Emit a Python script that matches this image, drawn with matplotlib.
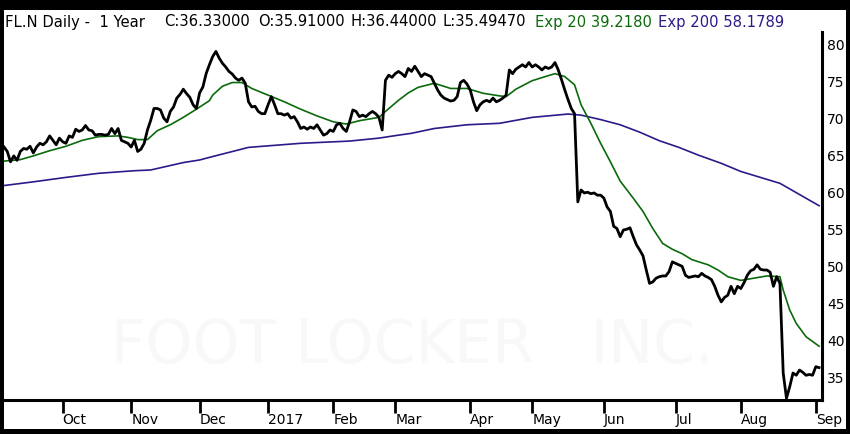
import numpy as np
import matplotlib
matplotlib.use("Agg")
import matplotlib.pyplot as plt
from matplotlib.patches import Rectangle
from matplotlib.transforms import blended_transform_factory

# ---- data (trading-day index from chart start) ----
close = [
    66.1, 65.5, 64.1, 64.9, 64.3, 65.5, 65.9, 65.8, 66.2, 65.3,
    66.1, 66.6, 66.4, 66.8, 67.6, 67.0, 66.4, 67.3, 66.8, 66.6,
    67.6, 67.4, 68.5, 68.2, 68.4, 69.0, 68.4, 68.3, 67.7, 67.8,
    67.8, 67.7, 67.8, 68.6, 67.9, 68.6, 67.0, 66.8, 66.6, 66.1,
    67.0, 65.5, 65.8, 66.6, 68.4, 69.7, 71.3, 71.3, 71.1, 70.0,
    69.5, 70.9, 71.5, 72.7, 73.2, 73.9, 73.3, 72.8, 71.8, 71.3,
    73.4, 74.2, 76.0, 77.2, 78.3, 79.0, 78.1, 77.4, 76.9, 76.3,
    75.95, 75.4, 75.1, 75.4, 74.7, 72.2, 71.5, 71.6, 70.9, 70.6,
    70.6, 71.8, 72.9, 71.8, 70.6, 70.6, 70.4, 70.6, 70.0, 70.2,
    69.5, 68.6, 68.8, 68.5, 68.8, 68.6, 69.1, 68.4, 67.7, 67.9,
    68.4, 68.2, 69.1, 69.3, 68.6, 68.2, 69.5, 71.1, 70.9, 70.2,
    70.4, 70.2, 70.6, 70.9, 70.6, 70.1, 68.4, 75.1, 75.8, 75.5,
    76.0, 76.3, 76.0, 75.6, 76.7, 76.3, 77.0, 76.3, 75.6, 76.0,
    75.8, 75.6, 74.7, 73.8, 73.1, 72.7, 72.5, 72.3, 72.4, 72.9,
    74.8, 75.1, 74.6, 73.8, 72.2, 71.0, 71.8, 72.2, 72.4, 72.2,
    72.7, 72.2, 72.4, 72.7, 73.1, 76.5, 76.0, 76.6, 76.9, 77.2,
    76.9, 77.5, 76.9, 77.2, 76.9, 76.5, 76.9, 76.7, 76.9, 77.5,
    76.5, 75.2, 73.8, 72.5, 71.3, 70.6, 58.7, 60.3, 59.9, 60.0,
    59.8, 59.9, 59.6, 59.6, 59.2, 58.0, 57.4, 55.4, 55.1, 54.0,
    54.9, 55.0, 55.2, 54.0, 52.9, 52.2, 51.4, 49.5, 47.7, 47.9,
    48.4, 48.6, 48.7, 48.7, 49.3, 50.6, 50.4, 50.2, 50.0, 48.8,
    48.5, 48.6, 48.7, 48.6, 49.05, 48.7, 48.5, 48.2, 47.3, 46.1,
    45.2, 45.8, 46.1, 47.3, 46.3, 47.3, 47.0, 47.8, 48.8, 49.4,
    49.6, 50.2, 49.6, 49.5, 49.5, 49.2, 47.3, 48.6, 47.7, 35.6,
    32.2, 33.75, 35.6, 35.3, 36.0, 35.7, 35.3, 35.4, 35.3, 36.45,
    36.33,
]

ema20_day = [0, 5, 9, 14, 19, 24, 29, 35, 38, 41, 44, 47, 51, 55, 59, 63, 64,
             67, 70, 73, 76, 81, 86, 91, 96, 101, 105, 109, 115, 117, 121, 124,
             127, 132, 137, 142, 147, 152, 154, 157, 162, 166, 169, 172, 175,
             177, 180, 183, 186, 189, 193, 196, 199, 202, 205, 208, 211, 216,
             219, 222, 226, 230, 234, 238, 239, 241, 243, 246, 250]
ema20_val = [64.2, 64.4, 64.9, 65.6, 66.2, 67.0, 67.5, 67.6, 67.4, 67.1, 67.1,
             68.3, 69.1, 70.1, 71.2, 72.35, 73.1, 74.3, 74.8, 74.8, 74.0, 73.1,
             72.2, 71.2, 70.3, 69.5, 69.2, 69.65, 70.1, 70.9, 72.4, 73.4, 74.15,
             74.7, 74.0, 74.0, 73.35, 73.0, 72.9, 73.9, 75.05, 75.6, 76.0, 75.6,
             74.5, 71.8, 69.3, 66.6, 64.1, 61.5, 59.2, 57.4, 55.1, 53.1, 52.3,
             51.7, 50.9, 50.2, 49.5, 48.6, 48.1, 48.4, 48.7, 48.6, 46.8, 44.1,
             42.3, 40.5, 39.22]

ema200_day = [0, 9, 19, 29, 40, 45, 55, 60, 63, 75, 91, 106, 115, 121, 125,
              132, 142, 152, 162, 173, 177, 183, 189, 195, 201, 207, 213, 220,
              226, 232, 238, 250]
ema200_val = [60.9, 61.4, 62.0, 62.55, 62.9, 63.0, 64.0, 64.35, 64.7, 66.05,
              66.6, 66.9, 67.3, 67.7, 67.95, 68.6, 69.1, 69.3, 70.1, 70.55,
              70.4, 69.8, 69.1, 68.1, 66.95, 66.05, 65.0, 63.9, 62.8, 62.0,
              61.2, 58.18]

month_day = [18, 39, 60, 81, 101, 120, 143, 162, 184, 206, 226, 249]
month_labels = ["Oct", "Nov", "Dec", "2017", "Feb", "Mar", "Apr", "May",
                "Jun", "Jul", "Aug", "Sep"]
price_ticks = [35, 40, 45, 50, 55, 60, 65, 70, 75, 80]

title_main = "FL.N Daily -  1 Year"
title_ohlc = ["C:36.33000", "O:35.91000", "H:36.44000", "L:35.49470"]
title_ema20 = "Exp 20 39.2180"
title_ema200 = "Exp 200 58.1789"
watermark = "FOOT LOCKER   INC."

GREEN = "#0b6a0b"
PURPLE = "#2c1a8a"

W, H = 850, 434
fig = plt.figure(figsize=(W / 100, H / 100), dpi=100, facecolor="black")
# white panel inside the black frame
fig.patches.append(Rectangle((4 / W, 5 / H), (846 - 4) / W, (429 - 10) / H,
                             transform=fig.transFigure, facecolor="white",
                             edgecolor="none", zorder=-2))


def fx(px):
    return px / W


def fy(py):
    return 1 - py / H


# watermark
fig.text(fx(412), fy(347), watermark, ha="center", va="center",
         fontsize=43, color="#f8f8f8", zorder=-1)

ax = fig.add_axes([fx(4), fy(400), fx(822) - fx(4), fy(32) - fy(400)])
ax.set_facecolor("none")
ax.set_zorder(1)

x = np.arange(len(close))
ax.plot(ema200_day, ema200_val, color=PURPLE, lw=1.2, zorder=2)
ax.plot(ema20_day, ema20_val, color=GREEN, lw=1.2, zorder=3)
ax.plot(x, close, color="black", lw=2.0, zorder=4, solid_joinstyle="round")

ax.set_xlim(0, 250.9)
ax.set_ylim(31.96, 81.62)

for s in ["left", "top"]:
    ax.spines[s].set_visible(False)
for s in ["right", "bottom"]:
    ax.spines[s].set_linewidth(2.2)
    ax.spines[s].set_color("black")

ax.yaxis.tick_right()
ax.set_yticks(price_ticks)
ax.set_yticklabels([str(v) for v in price_ticks])
ax.tick_params(axis="y", length=0, pad=3.5, labelsize=10, colors="black")

ax.set_xticks(month_day)
ax.set_xticklabels([])
ax.tick_params(axis="x", length=9, width=2, direction="out", color="black")

tr = blended_transform_factory(ax.transData, ax.transAxes)
axh = 400 - 32
for d, lab in zip(month_day, month_labels):
    ax.text(d, -20 / axh, lab, transform=tr, ha="left", va="center",
            fontsize=10, color="black", clip_on=False)

# title line
TY = 22
FS = 10.6
fig.text(fx(5), fy(TY), title_main, ha="left", va="center", fontsize=FS,
         color="black")
for px, t in zip([164, 258, 350, 443], title_ohlc):
    fig.text(fx(px), fy(TY), t, ha="left", va="center", fontsize=FS,
             color="black")
fig.text(fx(535), fy(TY), title_ema20, ha="left", va="center", fontsize=FS,
         color=GREEN)
fig.text(fx(658), fy(TY), title_ema200, ha="left", va="center", fontsize=FS,
         color=PURPLE)

fig.savefig("out.png", dpi=100, facecolor="black")
